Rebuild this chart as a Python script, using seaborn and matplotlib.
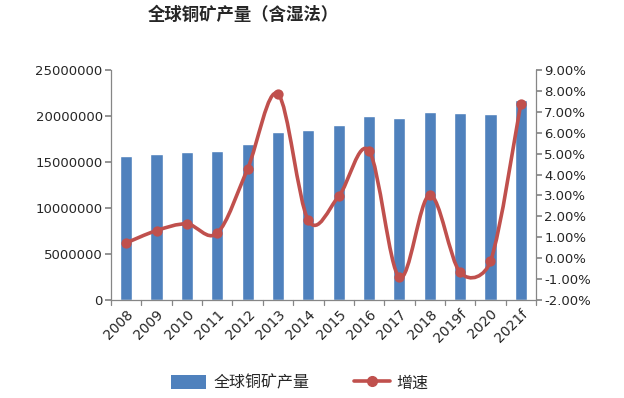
import numpy as np
import pandas as pd
import matplotlib
matplotlib.use("Agg")
import matplotlib.pyplot as plt
from matplotlib.path import Path
from matplotlib.patches import PathPatch, Patch
from matplotlib.lines import Line2D
from matplotlib.ticker import FuncFormatter, MultipleLocator
import seaborn as sns

years = ["2008", "2009", "2010", "2011", "2012", "2013", "2014", "2015",
         "2016", "2017", "2018", "2019f", "2020", "2021f"]
production = [15650000, 15870000, 16090000, 16200000, 16960000, 18260000, 18480000,
              19020000, 20000000, 19780000, 20430000, 20330000, 20220000, 21740000]
growth = [0.73, 1.32, 1.64, 1.20, 4.28, 7.86, 1.81, 2.96, 5.14, -0.92, 3.02,
          -0.68, -0.15, 7.39]

title = "全球铜矿产量（含湿法）"
bar_label = "全球铜矿产量"
line_label = "增速"

sns.set_theme(style="white")
plt.rcParams["font.family"] = ["Noto Sans CJK SC", "DejaVu Sans"]

BLUE = "#4F81BD"
RED = "#C0504D"
GRAY = "#868686"
TICK_FS = 9.5

fig = plt.figure(figsize=(6.24, 3.98), dpi=100)
ax = fig.add_axes([111 / 624, 1 - 300 / 398, (536 - 111) / 624, (300 - 70) / 398])

df = pd.DataFrame({"year": years, "prod": production})
sns.barplot(data=df, x="year", y="prod", color=BLUE, saturation=1, width=0.4, ax=ax)

ax.set_xlim(-0.5, len(years) - 0.5)
ax.set_ylim(0, 25000000)
ax.yaxis.set_major_locator(MultipleLocator(5000000))
ax.yaxis.set_major_formatter(FuncFormatter(lambda v, p: f"{int(v)}"))
ax.set_xlabel("")
ax.set_ylabel("")
ax.set_xticks(np.arange(len(years)))
ax.set_xticklabels(years, rotation=45, ha="right", rotation_mode="anchor", fontsize=TICK_FS + 0.5,
                   family="DejaVu Sans")
ax.tick_params(axis="x", length=0, pad=5)
for xb in np.arange(-0.5, len(years), 1.0):
    ax.plot([xb, xb], [0, -0.022], transform=ax.get_xaxis_transform(), color=GRAY, lw=0.9, clip_on=False)
ax.tick_params(axis="y", length=4, color=GRAY, labelsize=TICK_FS, left=True, pad=2)
for lbl in ax.get_yticklabels():
    lbl.set_family("DejaVu Sans")
for s in ["top", "right"]:
    ax.spines[s].set_visible(False)
for s in ["left", "bottom"]:
    ax.spines[s].set_color(GRAY)
    ax.spines[s].set_linewidth(0.9)

ax2 = ax.twinx()
ax2.set_xlim(-0.5, len(years) - 0.5)
ax2.set_ylim(-2, 9)
ax2.yaxis.set_major_locator(MultipleLocator(1))
ax2.yaxis.set_major_formatter(FuncFormatter(lambda v, p: f"{v:.2f}%"))
ax2.tick_params(axis="y", length=4, color=GRAY, labelsize=TICK_FS, right=True, pad=2)
for lbl in ax2.get_yticklabels():
    lbl.set_family("DejaVu Sans")
for s in ["top", "left", "bottom"]:
    ax2.spines[s].set_visible(False)
ax2.spines["right"].set_color(GRAY)
ax2.spines["right"].set_linewidth(0.9)

# smoothed line (Excel-style Bezier through the data points, computed in display space)
xs = np.arange(len(growth), dtype=float)
ys = np.array(growth, dtype=float)
tr = ax2.transData
pts = tr.transform(np.column_stack([xs, ys]))
n = len(pts)
verts = [pts[0]]
codes = [Path.MOVETO]
for i in range(n - 1):
    p0 = pts[i - 1] if i > 0 else pts[i]
    p1 = pts[i]
    p2 = pts[i + 1]
    p3 = pts[i + 2] if i + 2 < n else pts[i + 1]
    d12 = np.linalg.norm(p2 - p1)
    d02 = np.linalg.norm(p2 - p0)
    d13 = np.linalg.norm(p3 - p1)
    f1 = 1 / 6 if d02 / 6 < d12 / 2 else d12 / (2 * d02)
    f2 = 1 / 6 if d13 / 6 < d12 / 2 else d12 / (2 * d13)
    c1 = p1 + (p2 - p0) * f1
    c2 = p2 - (p3 - p1) * f2
    verts += [c1, c2, p2]
    codes += [Path.CURVE4] * 3
verts = tr.inverted().transform(np.array(verts))
ax2.add_patch(PathPatch(Path(verts, codes), facecolor="none", edgecolor=RED, lw=2.6,
                        transform=ax2.transData, zorder=3, capstyle="round", joinstyle="round"))
sns.scatterplot(x=xs, y=ys, color=RED, s=55, edgecolor=RED, linewidth=0, ax=ax2, zorder=4)

fig.text(243 / 624, 1 - 15 / 398, title, ha="center", va="center", fontsize=12.5, fontweight="bold")

handles = [Patch(facecolor=BLUE, edgecolor="none"),
           Line2D([0], [0], color=RED, lw=2.6, marker="o", markersize=7)]
fig.legend(handles, [bar_label, line_label], loc="center", bbox_to_anchor=(300 / 624, 1 - 383 / 398),
           ncol=2, frameon=False, fontsize=11.5, handlelength=2.2, handleheight=0.9, columnspacing=2.8,
           handletextpad=0.45)

fig.savefig("out.png", dpi=100)
